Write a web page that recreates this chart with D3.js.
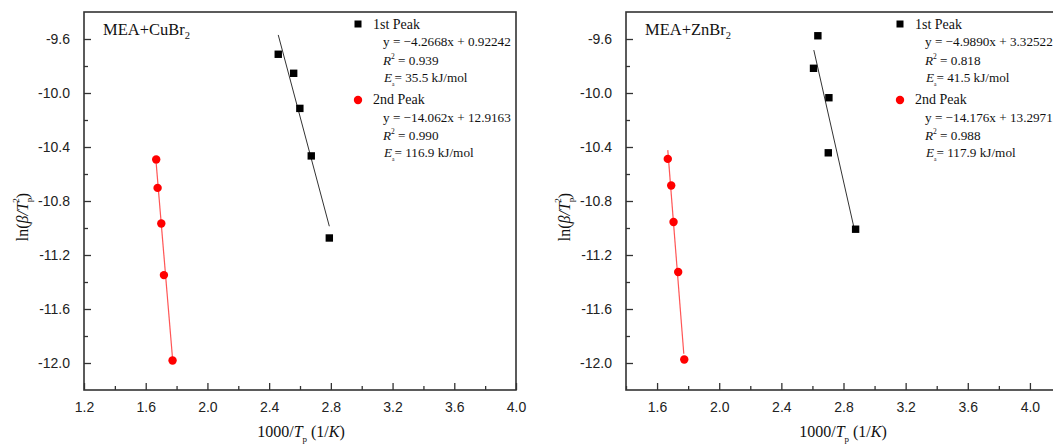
<!DOCTYPE html>
<html>
<head>
<meta charset="utf-8">
<script src="https://cdn.jsdelivr.net/npm/d3@7"></script>
<style>
  html, body { margin: 0; padding: 0; background: #fff; }
  svg { display: block; }
</style>
</head>
<body>
<svg id="chart" width="1053" height="445"></svg>
<script>
// ---------- data ----------
const cuPeak1X = [2.459, 2.559, 2.599, 2.673, 2.790];
const cuPeak1Y = [-9.713, -9.854, -10.114, -10.466, -11.074];
const cuPeak2X = [1.668, 1.677, 1.701, 1.718, 1.774];
const cuPeak2Y = [-10.493, -10.703, -10.967, -11.349, -11.981];
const cuFit1X = [2.459, 2.790];
const cuFit1Y = [-9.570, -10.987];
const cuFit2X = [1.668, 1.774];
const cuFit2Y = [-10.522, -11.969];

const znPeak1X = [2.635, 2.607, 2.706, 2.702, 2.878];
const znPeak1Y = [-9.576, -9.817, -10.035, -10.443, -11.009];
const znPeak2X = [1.669, 1.691, 1.706, 1.736, 1.775];
const znPeak2Y = [-10.488, -10.685, -10.955, -11.326, -11.974];
const znFit1X = [2.609, 2.865];
const znFit1Y = [-9.682, -10.985];
const znFit2X = [1.669, 1.772];
const znFit2Y = [-10.423, -11.932];

const cuXTicks = [1.2, 1.6, 2.0, 2.4, 2.8, 3.2, 3.6, 4.0];
const znXTicks = [1.6, 2.0, 2.4, 2.8, 3.2, 3.6, 4.0];
const xMinorTicks = [1.4, 1.8, 2.2, 2.6, 3.0, 3.4, 3.8];
const yTicks = [-9.6, -10.0, -10.4, -10.8, -11.2, -11.6, -12.0];
const yMinorTicks = [-9.8, -10.2, -10.6, -11.0, -11.4, -11.8];

const cuTitle = ["MEA+CuBr", "2"];
const znTitle = ["MEA+ZnBr", "2"];
const cuEq1 = ["y = \u22124.2668x + 0.92242", "0.939", "35.5 kJ/mol"];
const cuEq2 = ["y = \u221214.062x + 12.9163", "0.990", "116.9 kJ/mol"];
const znEq1 = ["y = \u22124.9890x + 3.32522", "0.818", "41.5 kJ/mol"];
const znEq2 = ["y = \u221214.176x + 13.2971", "0.988", "117.9 kJ/mol"];
const seriesNames = ["1st Peak", "2nd Peak"];

// ---------- drawing ----------
const svg = d3.select("#chart");
const SERIF = "'Liberation Serif', 'Times New Roman', serif";
const SANS = "'Liberation Sans', Arial, sans-serif";
const zip = (a, b) => a.map((v, i) => [v, b[i]]);

function panel(opt) {
  const top = 12, bottom = 390;
  const x = d3.scaleLinear().domain(opt.xDomain).range([opt.left, opt.right]);
  const y = d3.scaleLinear().domain([-12.2, -9.4]).range([bottom, top]);
  const g = svg.append("g");

  // axes with inward ticks
  const xAxis = d3.axisBottom(x).tickValues(opt.xTicks).tickFormat(d3.format(".1f")).tickSizeInner(-7).tickSizeOuter(0).tickPadding(12);
  const xMinor = d3.axisBottom(x).tickValues(xMinorTicks).tickFormat("").tickSizeInner(-4).tickSizeOuter(0);
  const yAxis = d3.axisLeft(y).tickValues(yTicks).tickFormat(d3.format(".1f")).tickSizeInner(-7).tickSizeOuter(0).tickPadding(14);
  const yMinor = d3.axisLeft(y).tickValues(yMinorTicks).tickFormat("").tickSizeInner(-4).tickSizeOuter(0);

  const gx = g.append("g").attr("transform", `translate(0,${bottom})`).call(xAxis);
  const gxm = g.append("g").attr("transform", `translate(0,${bottom})`).call(xMinor);
  const gy = g.append("g").attr("transform", `translate(${opt.left},0)`).call(yAxis);
  const gym = g.append("g").attr("transform", `translate(${opt.left},0)`).call(yMinor);
  [gx, gxm, gy, gym].forEach(a => {
    a.select(".domain").remove();
    a.selectAll("line").attr("stroke", "#333").attr("stroke-width", 1.3);
    a.selectAll("text").attr("font-family", SANS).attr("font-size", 14).attr("fill", "#222");
  });
  gy.selectAll("text").text(d => d3.format(".1f")(d).replace("\u2212", "-"));

  // frame
  g.append("rect").attr("x", opt.left).attr("y", top)
    .attr("width", x.range()[1] - opt.left).attr("height", bottom - top)
    .attr("fill", "none").attr("stroke", "#333").attr("stroke-width", 1.6);

  const line = d3.line().x(d => x(d[0])).y(d => y(d[1]));
  // fit lines
  g.append("path").datum(zip(opt.fit1X, opt.fit1Y)).attr("d", line)
    .attr("fill", "none").attr("stroke", "#333").attr("stroke-width", 1);
  g.append("path").datum(zip(opt.fit2X, opt.fit2Y)).attr("d", line)
    .attr("fill", "none").attr("stroke", "#ff5555").attr("stroke-width", 1.2);

  // markers
  const sq = 7.4;
  g.selectAll(".sq").data(zip(opt.p1X, opt.p1Y)).join("rect")
    .attr("x", d => x(d[0]) - sq / 2).attr("y", d => y(d[1]) - sq / 2)
    .attr("width", sq).attr("height", sq).attr("fill", "#000");
  g.selectAll(".ci").data(zip(opt.p2X, opt.p2Y)).join("circle")
    .attr("cx", d => x(d[0])).attr("cy", d => y(d[1])).attr("r", 4.2).attr("fill", "#ff0000");

  // panel title
  const t = g.append("text").attr("x", opt.left + 19).attr("y", 35)
    .attr("font-family", SERIF).attr("font-size", 16.5).attr("fill", "#111");
  t.append("tspan").text(opt.title[0]);
  t.append("tspan").attr("font-size", 10.5).attr("dy", 4).text(opt.title[1]);

  // legend
  const lx = opt.left + 274;
  g.append("rect").attr("x", lx - 3.5).attr("y", 24 - 3.5).attr("width", 7).attr("height", 7).attr("fill", "#000");
  g.append("circle").attr("cx", lx).attr("cy", 100).attr("r", 4.2).attr("fill", "#ff0000");

  const FS = 13.2;
  function block(name, eq, y0) {
    g.append("text").attr("x", lx + 15).attr("y", y0)
      .attr("font-family", SERIF).attr("font-size", 14).attr("fill", "#111").text(name);
    g.append("text").attr("x", lx + 25).attr("y", y0 + 17.5)
      .attr("font-family", SERIF).attr("font-size", FS).attr("fill", "#111").text(eq[0]);
    const r = g.append("text").attr("x", lx + 25).attr("y", y0 + 36)
      .attr("font-family", SERIF).attr("font-size", FS).attr("fill", "#111");
    r.append("tspan").attr("font-style", "italic").text("R");
    r.append("tspan").attr("font-size", 7.5).attr("dy", -6).text("2");
    r.append("tspan").attr("dy", 6).text(" = " + eq[1]);
    const e = g.append("text").attr("x", lx + 26).attr("y", y0 + 53)
      .attr("font-family", SERIF).attr("font-size", FS).attr("fill", "#111");
    e.append("tspan").attr("font-style", "italic").text("E");
    e.append("tspan").attr("font-size", 5.5).attr("dy", 4).text("a");
    e.append("tspan").attr("dy", -4).text("= " + eq[2]);
  }
  block(seriesNames[0], opt.eq1, 28.5);
  block(seriesNames[1], opt.eq2, 104);

  // axis titles
  const xt = g.append("text").attr("x", (opt.left + 516 - 84 + opt.left) / 2 + 1).attr("y", 436.5)
    .attr("text-anchor", "middle").attr("font-family", SERIF).attr("font-size", 16).attr("fill", "#111");
  xt.append("tspan").text("1000/");
  xt.append("tspan").attr("font-style", "italic").text("T");
  xt.append("tspan").attr("font-size", 9).attr("dy", 5).text("p");
  xt.append("tspan").attr("dy", -5).text(" (1/");
  xt.append("tspan").attr("font-style", "italic").text("K");
  xt.append("tspan").text(")");

  const yt = g.append("text").attr("transform", `translate(${opt.left - 56},217) rotate(-90)`)
    .attr("text-anchor", "middle").attr("font-family", SERIF).attr("font-size", 16).attr("fill", "#111");
  yt.append("tspan").text("ln(");
  yt.append("tspan").attr("font-style", "italic").text("\u03B2/T");
  yt.append("tspan").attr("font-size", 9).attr("dy", 4).text("p");
  yt.append("tspan").attr("font-size", 9).attr("dy", -13).attr("dx", -5).text("2");
  yt.append("tspan").attr("dy", 9).text(")");
}

panel({
  left: 84, right: 516, xDomain: [1.2, 4.0], xTicks: cuXTicks,
  p1X: cuPeak1X, p1Y: cuPeak1Y, p2X: cuPeak2X, p2Y: cuPeak2Y,
  fit1X: cuFit1X, fit1Y: cuFit1Y, fit2X: cuFit2X, fit2Y: cuFit2Y,
  title: cuTitle, eq1: cuEq1, eq2: cuEq2
});
panel({
  left: 626, right: 1061, xDomain: [1.4, 4.2], xTicks: znXTicks,
  p1X: znPeak1X, p1Y: znPeak1Y, p2X: znPeak2X, p2Y: znPeak2Y,
  fit1X: znFit1X, fit1Y: znFit1Y, fit2X: znFit2X, fit2Y: znFit2Y,
  title: znTitle, eq1: znEq1, eq2: znEq2
});
</script>
</body>
</html>
